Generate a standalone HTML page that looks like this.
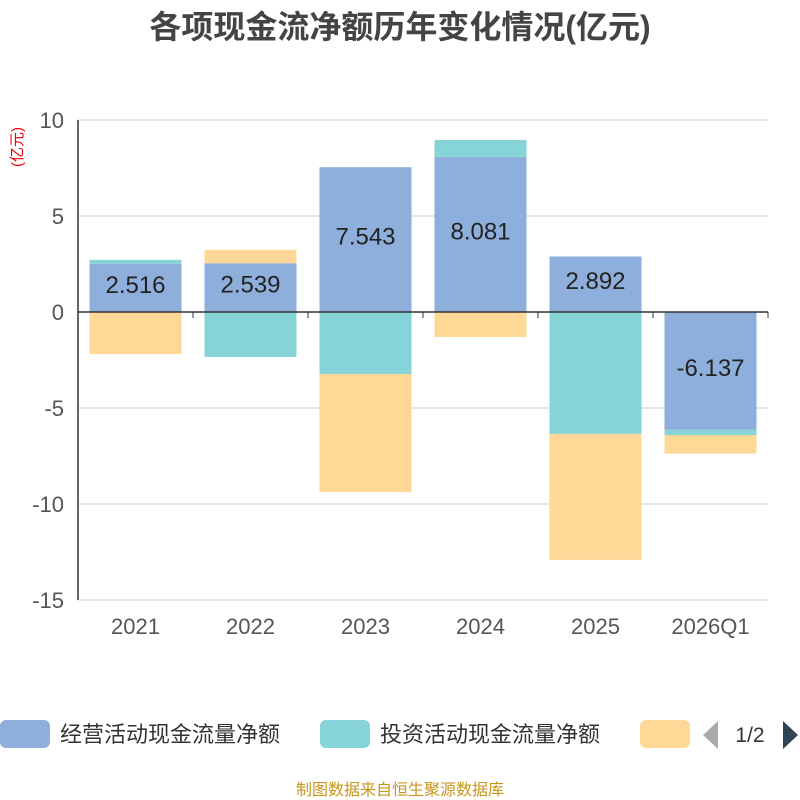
<!DOCTYPE html>
<html><head><meta charset="utf-8">
<style>
body{margin:0;background:#fff;font-family:"Liberation Sans","Noto Sans CJK SC",sans-serif;}
#wrap{position:relative;width:800px;height:800px;overflow:hidden;}
</style></head>
<body>
<div id="wrap">
<svg id="chart" width="800" height="800"></svg>
</div>
<script>
const categories=["2021","2022","2023","2024","2025","2026Q1"];
const operating=[2.516,2.539,7.543,8.081,2.892,-6.137];
const investing=[0.2,-2.34,-3.23,0.88,-6.35,-0.27];
const financing=[-2.19,0.7,-6.15,-1.3,-6.56,-0.97];
const yTicks=[10,5,0,-5,-10,-15];
const seriesNames=["经营活动现金流量净额","投资活动现金流量净额"];
const colors=["#8eaedb","#86d4d8","#ffd897"];

const NS="http://www.w3.org/2000/svg";
const svg=document.getElementById("chart");
const L=78,R=768,T=120,B=600,yMin=-15,yMax=10;
function y(v){return T+(yMax-v)/(yMax-yMin)*(B-T);}
const band=(R-L)/categories.length;
function xc(i){return L+band*(i+0.5);}
function mk(tag,attrs,text){const e=document.createElementNS(NS,tag);for(const k in attrs)e.setAttribute(k,attrs[k]);if(text!==undefined)e.textContent=text;svg.appendChild(e);return e;}

let t=mk("text",{x:400,y:38,"text-anchor":"middle","font-size":"32","font-weight":"bold",fill:"#444"},"各项现金流净额历年变化情况(亿元)");


t=mk("text",{x:22,y:147,"text-anchor":"middle","font-size":"15",fill:"#e00",transform:"rotate(-90 22 147)"},"(亿元)");



yTicks.forEach(v=>{
  const g=mk("line",{x1:L,x2:R,y1:y(v),y2:y(v),stroke:"#ccc","stroke-width":1});
  
  
  const tl=mk("text",{x:L-14,y:y(v)+8,"text-anchor":"end","font-size":"22",fill:"#555"},String(v));
  
  
});

categories.forEach((c,i)=>{
  const bw=band*0.8,x0=xc(i)-bw/2;
  let pos=0,neg=0;
  [operating[i],investing[i],financing[i]].forEach((v,s)=>{
    let a,b;
    if(v>=0){a=pos;b=pos+v;pos=b;}else{a=neg;b=neg+v;neg=b;}
    const r=mk("rect",{x:x0,y:Math.min(y(a),y(b)),width:bw,height:Math.abs(y(a)-y(b)),fill:colors[s]});
    
    
  });
  const lv=operating[i];
  const lb=mk("text",{x:xc(i),y:y(lv/2)+5,"text-anchor":"middle","font-size":"24",fill:"#222"},lv.toFixed(3));
  
  
  const xl=mk("text",{x:xc(i),y:634,"text-anchor":"middle","font-size":"22",fill:"#555"},c);
  
  
  const tk=mk("line",{x1:L+band*(i+1),x2:L+band*(i+1),y1:y(0),y2:y(0)+6,stroke:"#333"});
  
  
});
let ax=mk("line",{x1:L,x2:R,y1:y(0),y2:y(0),stroke:"#333","stroke-width":1.5});


ax=mk("line",{x1:L,x2:L,y1:T,y2:B,stroke:"#333","stroke-width":1.5});



const lx=[0,320,640];
lx.forEach((x,s)=>{
  const r=mk("rect",{x:x,y:720,width:50,height:28,rx:6,fill:colors[s]});
  
  
  if(seriesNames[s]){
    const lt=mk("text",{x:x+60,y:742,"font-size":"22",fill:"#333"},seriesNames[s]);
    
    
  }
});
let p=mk("polygon",{points:"718,721 718,749 703,735",fill:"#aaa"});


p=mk("polygon",{points:"783,721 783,749 798,735",fill:"#2f4554"});


t=mk("text",{x:750,y:742,"text-anchor":"middle","font-size":"21",fill:"#333"},"1/2");


t=mk("text",{x:400,y:795,"text-anchor":"middle","font-size":"16",fill:"#c8961e"},"制图数据来自恒生聚源数据库");


</script>
</body></html>
